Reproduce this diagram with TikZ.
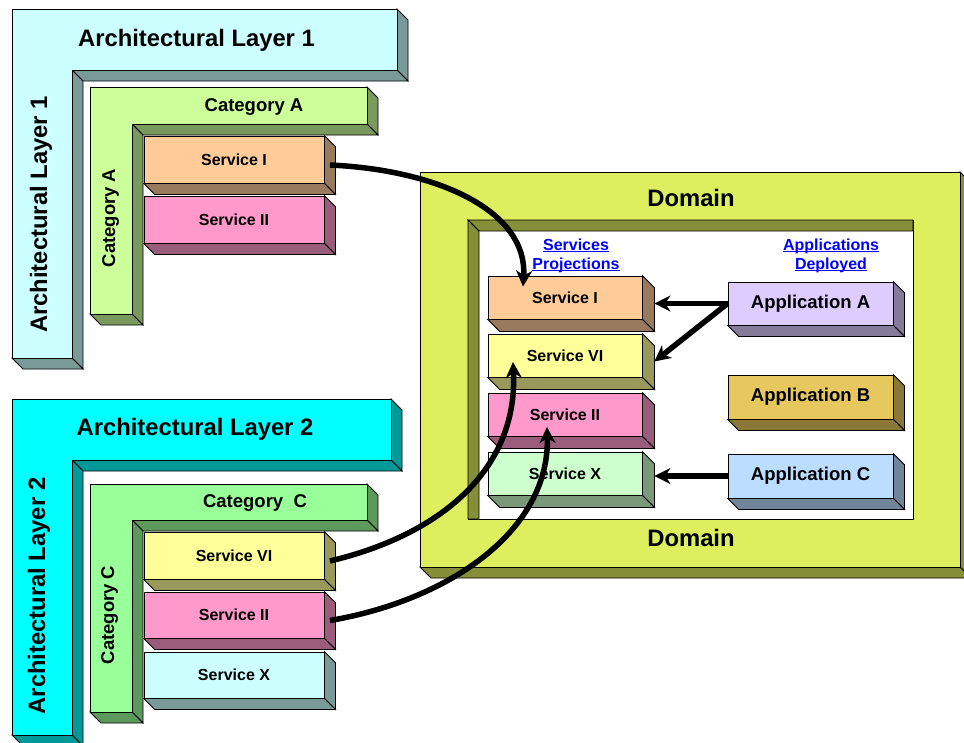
\documentclass[tikz,border=0pt]{standalone}
\usepackage{fontspec}
\setmainfont{Liberation Sans}
\usetikzlibrary{arrows.meta}

\definecolor{layerone}{HTML}{CCFFFF}
\definecolor{layertwo}{HTML}{00FFFF}
\definecolor{catA}{HTML}{CCFF99}
\definecolor{catC}{HTML}{99FF99}
\definecolor{svcI}{HTML}{FFCC99}
\definecolor{svcII}{HTML}{FF99CC}
\definecolor{svcVI}{HTML}{FFFF99}
\definecolor{svcXa}{HTML}{CCFFFF}
\definecolor{svcXb}{HTML}{CCFFCC}
\definecolor{appA}{HTML}{DDCCFF}
\definecolor{appB}{HTML}{E6C85E}
\definecolor{appC}{HTML}{BBDDFF}
\definecolor{domain}{HTML}{DDEE5E}
\definecolor{linkblue}{HTML}{0000FF}

\newcommand\slabdepth{11}

\tikzset{
  edge/.style={draw=black, line width=0.8pt, line join=miter},
  svcfont/.style={font=\bfseries\fontsize{16}{18}\selectfont},
  appfont/.style={font=\bfseries\fontsize{18.5}{20}\selectfont},
  bigfont/.style={font=\bfseries\fontsize{23.8}{26}\selectfont},
  catfont/.style={font=\bfseries\fontsize{18.5}{20}\selectfont},
  linkfont/.style={font=\bfseries\fontsize{16}{18}\selectfont, text=linkblue},
  flow/.style={line width=5.5pt, -{Stealth[length=16pt,width=16pt,inset=5pt]}},
}

% a raised block: front face as a named node, then its right and bottom faces
\newcommand\slab[8]{% name, x1, y1, x2, y2, colour, label style, label
  \node[edge, fill=#6, inner sep=0pt, text=black,
        minimum width={(#4-#2)*1pt}, minimum height={(#5-#3)*1pt}, #7]
        (#1) at ({(#2+#4)/2},{(#3+#5)/2}) {#8};
  \filldraw[edge, fill=#6!60!black] (#1.north east) -- ++(\slabdepth,\slabdepth)
     -- ([shift={(\slabdepth,\slabdepth)}]#1.south east) -- (#1.south east) -- cycle;
  \filldraw[edge, fill=#6!60!black] (#1.south west) -- ++(\slabdepth,\slabdepth)
     -- ([shift={(\slabdepth,\slabdepth)}]#1.south east) -- (#1.south east) -- cycle;
}

% a raised L-shaped band: outer corner (x1,y1), top bar right x2, top bar bottom yb,
% inner edge xi, left bar bottom y3
\newcommand\lslab[7]{%
  \filldraw[edge, fill=#7!60!black] (#3,#2) -- ++(\slabdepth,\slabdepth)
     -- ({#3+\slabdepth},{#4+\slabdepth}) -- (#3,#4) -- cycle;
  \filldraw[edge, fill=#7!60!black] (#5,#4) -- (#3,#4)
     -- ({#3+\slabdepth},{#4+\slabdepth}) -- ({#5+\slabdepth},{#4+\slabdepth}) -- cycle;
  \filldraw[edge, fill=#7!60!black] (#5,#4) -- ({#5+\slabdepth},{#4+\slabdepth})
     -- ({#5+\slabdepth},{#6+\slabdepth}) -- (#5,#6) -- cycle;
  \filldraw[edge, fill=#7!60!black] (#1,#6) -- (#5,#6)
     -- ({#5+\slabdepth},{#6+\slabdepth}) -- ({#1+\slabdepth},{#6+\slabdepth}) -- cycle;
  \filldraw[edge, fill=#7] (#1,#2) -- (#3,#2) -- (#3,#4) -- (#5,#4) -- (#5,#6) -- (#1,#6) -- cycle;
}

\begin{document}
\begin{tikzpicture}[x=1pt, y=-1pt]
\useasboundingbox (0,0) rectangle (964,742);
\clip (0,0) rectangle (964,742);

% ---- Architectural layer 1 ----
\lslab{12}{9}{397}{70}{72}{358}{layerone}
\node[bigfont, anchor=base] (al1top) at (196.5,46) {Architectural Layer 1};
\node[bigfont, rotate=90, anchor=base] (al1side) at (47,214.5) {Architectural Layer 1};

\lslab{90}{87}{367}{124}{132}{314}{catA}
\node[catfont, anchor=base] (catAtop) at (254,111) {Category A};
\node[catfont, rotate=90, anchor=base] (catAside) at (115,218) {Category A};

\slab{lsI}{144}{136}{324}{183}{svcI}{svcfont}{Service I}
\slab{lsII}{144}{196}{324}{243}{svcII}{svcfont}{Service II}

% ---- Architectural layer 2 ----
\lslab{12}{399}{391}{460}{72}{735}{layertwo}
\node[bigfont, anchor=base] (al2top) at (195,435) {Architectural Layer 2};
\node[bigfont, rotate=90, anchor=base] (al2side) at (45,596) {Architectural Layer 2};

\lslab{90}{484}{367}{520}{132}{712}{catC}
\node[catfont, anchor=base] (catCtop) at (255,507) {Category\ \ C};
\node[catfont, rotate=90, anchor=base] (catCside) at (114,615) {Category C};

\slab{lsVI}{144}{532}{324}{579}{svcVI}{svcfont}{Service VI}
\slab{lsIIc}{144}{592}{324}{638}{svcII}{svcfont}{Service II}
\slab{lsX}{144}{652}{324}{698}{svcXa}{svcfont}{Service X}

% ---- Domain frame ----
\filldraw[edge, fill=domain!60!black] (960,172) -- ++(11,11) -- (971,578) -- (960,567) -- cycle;
\filldraw[edge, fill=domain!60!black] (420,567) -- ++(11,11) -- (971,578) -- (960,567) -- cycle;
\filldraw[edge, fill=domain] (420,172) rectangle (960,567);
\filldraw[edge, fill=white] (468,220) rectangle (913,519);
\filldraw[edge, fill=domain!60!black] (468,220) -- (913,220) -- (913,231) -- (479,231) -- cycle;
\filldraw[edge, fill=domain!60!black] (468,220) -- (479,231) -- (479,519) -- (468,519) -- cycle;
\node[bigfont, anchor=base] (domtop) at (691,206) {Domain};
\node[bigfont, anchor=base] (dombot) at (691,546) {Domain};

\node[linkfont, anchor=base] (sp1) at (576,250) {\underline{Services}};
\node[linkfont, anchor=base] (sp2) at (576,269) {\underline{\smash{Projections}}};
\node[linkfont, anchor=base] (ad1) at (831,250) {\underline{\smash{Applications}}};
\node[linkfont, anchor=base] (ad2) at (831,269) {\underline{\smash{Deployed}}};

\renewcommand\slabdepth{12}
\slab{dsI}{488}{276}{642}{319}{svcI}{svcfont}{Service I}
\slab{dsVI}{488}{334}{642}{377}{svcVI}{svcfont}{Service VI}
\slab{dsII}{488}{393}{642}{436}{svcII}{svcfont}{Service II}
\slab{dsX}{488}{452}{642}{495}{svcXb}{svcfont}{Service X}

\renewcommand\slabdepth{11}
\slab{appA}{728}{282}{893}{325}{appA}{appfont}{Application A}
\slab{appB}{728}{375}{893}{419}{appB}{appfont}{Application B}
\slab{appC}{728}{454}{893}{498}{appC}{appfont}{Application C}

% ---- Projections of services into the domain ----
\draw[flow] ([shift={(5.5,5.5)}]lsI.east) .. controls (440,170) and (528,212) .. ([shift={(-42,11)}]dsI.north);
\draw[flow] ([shift={(5.5,5.5)}]lsVI.east) .. controls (440,535) and (518,470) .. ([shift={(-52,6.5)}]dsVI.center);
\draw[flow] ([shift={(5.5,5.5)}]lsIIc.east) .. controls (450,600) and (550,530) .. ([shift={(-18,12.5)}]dsII.center);

% ---- Applications using services ----
\draw[flow] (appA.west) -- ([shift={(12,6)}]dsI.east);
\draw[flow] (appA.west) -- ([shift={(12,6)}]dsVI.east);
\draw[flow] (appC.west) -- ([shift={(12,2.5)}]dsX.east);
\end{tikzpicture}
\end{document}
